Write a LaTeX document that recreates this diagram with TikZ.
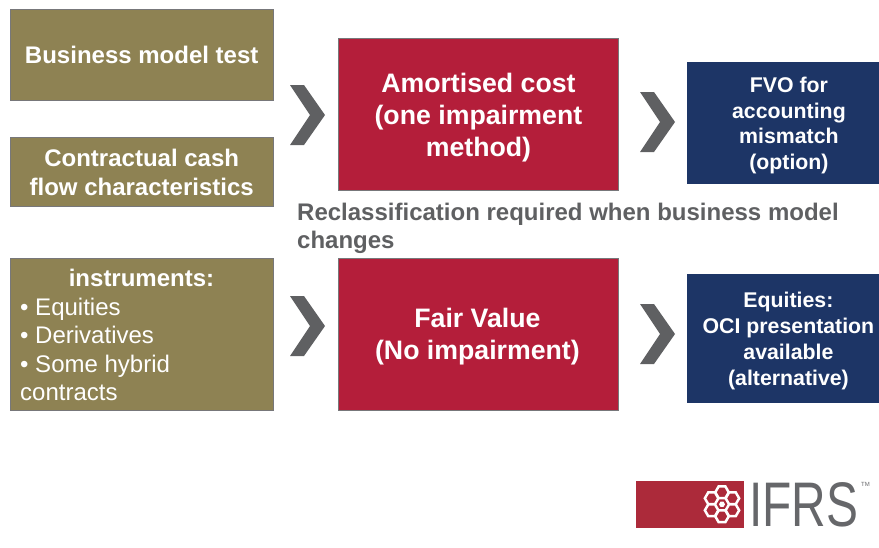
\documentclass[tikz,border=0pt]{standalone}
\usepackage{fontspec}
\setmainfont{Liberation Sans}
\usetikzlibrary{shapes.geometric}
\definecolor{olivebox}{HTML}{8E8253}
\definecolor{redbox}{HTML}{B41E3A}
\definecolor{bluebox}{HTML}{1D3566}
\definecolor{edgegray}{HTML}{77777A}
\definecolor{chev}{HTML}{5F6062}
\definecolor{logored}{HTML}{AC2A3A}
\definecolor{logotext}{HTML}{66676A}
\newcommand{\txt}[2]{\fontsize{#1}{#2}\selectfont}
\tikzset{
  boxbase/.style={draw=edgegray,line width=0.9pt,inner sep=0pt},
  olive/.style={boxbase,fill=olivebox},
  crimson/.style={boxbase,fill=redbox},
  navy/.style={boxbase,fill=bluebox,draw=none},
  lbl/.style={inner sep=0pt,text=white,align=center},
  chevron/.style={fill=chev,draw=none},
  petal/.style={regular polygon,regular polygon sides=6,draw=white,line width=2.5pt,fill=logored,minimum size=13.5pt,inner sep=0pt},
}
\newcommand{\boxat}[6]{\node[#2,minimum width=#5pt-#3pt,minimum height=#6pt-#4pt,anchor=north west] (#1) at (#3,#4) {};}
\newcommand{\chevat}[2]{\fill[chevron] (#1,#2) -- ++(14,0) -- ++(21,30) -- ++(-21,30) -- ++(-14,0) -- ++(20,-30) -- cycle;}
\begin{document}
\begin{tikzpicture}[x=1pt,y=-1pt]
\useasboundingbox (0,0) rectangle (879,547);
\boxat{bm}{olive}{10}{9}{272.5}{100}
\boxat{cc}{olive}{10}{137}{272.5}{206}
\boxat{ins}{olive}{10}{258}{272.5}{410}
\boxat{am}{crimson}{338}{38}{618}{190}
\boxat{fv}{crimson}{338}{258}{618}{410}
\boxat{fvo}{navy}{687}{62}{879}{184}
\boxat{eq}{navy}{687}{274}{879}{403}
\node[lbl,font=\bfseries\txt{24}{28}] (bmt) at ([shift={(0,0)}]bm.center) {Business model test};
\node[lbl,font=\bfseries\txt{24}{29}] (cct) at ([shift={(0,0)}]cc.center) {Contractual cash\\flow characteristics};
\node[anchor=north,lbl,font=\bfseries\txt{24}{28}] (instt) at (141.5,269) {instruments:};
\node[anchor=north west,lbl,align=left,font=\txt{24}{28.5}] (insl) at (20,297.5) {• Equities\\• Derivatives\\• Some hybrid\\contracts};
\node[lbl,font=\bfseries\txt{26.7}{32}] (amt) at ([shift={(0,3)}]am.center) {Amortised cost\\(one impairment\\method)};
\node[lbl,font=\bfseries\txt{26.7}{32}] (fvt) at ([shift={(-1,2.5)}]fv.center) {Fair Value\\(No impairment)};
\node[lbl,font=\bfseries\txt{21.3}{25.5}] (fvot) at ([shift={(5.5,2)}]fvo.center) {FVO for\\accounting\\mismatch\\(option)};
\node[lbl,font=\bfseries\txt{21.3}{26}] (eqt) at ([shift={(5,2)}]eq.center) {Equities:\\OCI presentation\\available\\(alternative)};
\chevat{290}{85}
\chevat{640}{92}
\chevat{290}{296}
\chevat{640}{304}
\node[anchor=north west,text=chev,align=left,inner sep=0pt,font=\bfseries\txt{24}{28.5}] (recl) at (297,202.5) {Reclassification required when business model\\changes};
% logo
\node[fill=logored,draw=none,minimum width=108pt,minimum height=47pt,anchor=north west,inner sep=0pt] (lg) at (636,481) {};
\foreach \a in {30,90,...,330} \node[petal] at ([shift={(\a:12pt)}]722,504.3) {};
\node[regular polygon,regular polygon sides=6,fill=white,minimum size=6pt,inner sep=0pt] (lc) at (722,504.3) {};
\node[anchor=west,text=logotext,inner sep=0pt,font=\txt{63}{63},xscale=.76] (ifrs) at (749,504.5) {IFRS};
\node[anchor=north west,text=logotext,inner sep=0pt,font=\txt{6}{6}] (tm) at (861,482) {TM};
\end{tikzpicture}
\end{document}
